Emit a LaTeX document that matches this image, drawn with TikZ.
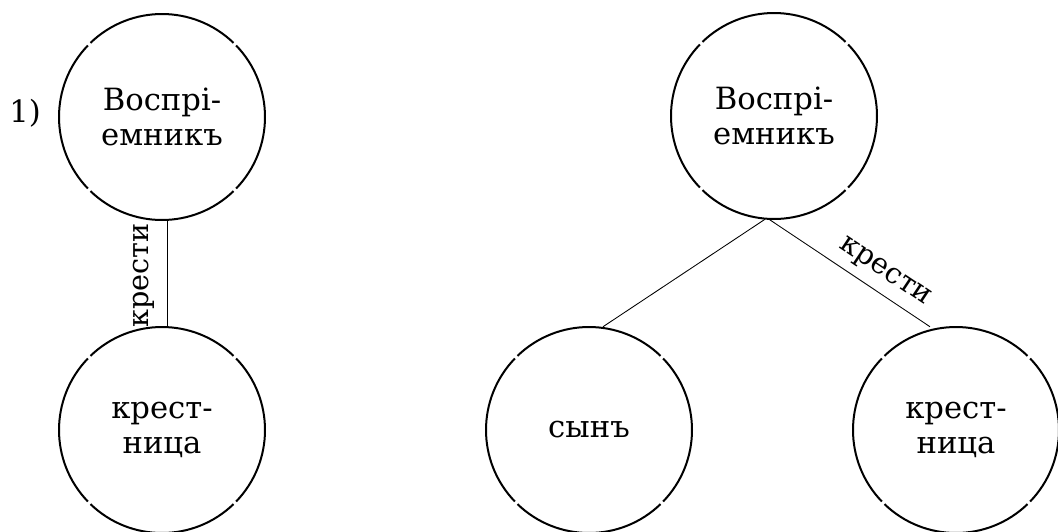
\documentclass[tikz,border=0pt]{standalone}
\usepackage{fontspec}
\setmainfont{DejaVu Serif}
\newfontfamily\oldfont{DejaVu Serif}
\begin{document}
\begin{tikzpicture}[x=0.75pt,y=-0.75pt,
  person/.style={circle, draw=none, minimum size=154.5pt, inner sep=0pt,
    align=center, font=\oldfont\fontsize{23}{26.3}\selectfont},
  ring/.style={line width=1.5pt},
  link/.style={line width=0.65pt},
  lbl/.style={font=\oldfont\fontsize{21.5}{26}\selectfont, inner sep=0pt}]
\useasboundingbox (0,0) rectangle (1058,532);
\node[person] (A) at (162,117) {Воспрі-\\емникъ};
\node[person] (B) at (162,430) {крест-\\ница};
\node[person] (C) at (774,116) {Воспрі-\\емникъ};
\node[person] (D) at (589,430) {сынъ};
\node[person] (E) at (956,430) {крест-\\ница};
\foreach \n in {A,B,C,D,E}{
  \foreach \a in {45,135,225,315}{
    \draw[ring] ([shift={(\a+1:103)}]\n.center) arc[start angle=\a+1, end angle=\a+89, radius=103];
  }
}
\node[lbl, anchor=center, font=\oldfont\fontsize{23}{26}\selectfont] (n1) at (25,113) {1)};
\draw[link] ([xshift=3.75pt]B.north) -- ([xshift=3.75pt]A.south)
  node[lbl, pos=0.48, sloped, above=9.4pt] {крести};
\draw[link] ([xshift=-6.75pt]C.south) -- ([xshift=10.5pt]D.north);
\draw[link] ([xshift=-3.75pt]C.south) -- ([xshift=-19.5pt]E.north)
  node[lbl, pos=0.65, sloped, above=6.5pt] {крести};
\end{tikzpicture}
\end{document}
